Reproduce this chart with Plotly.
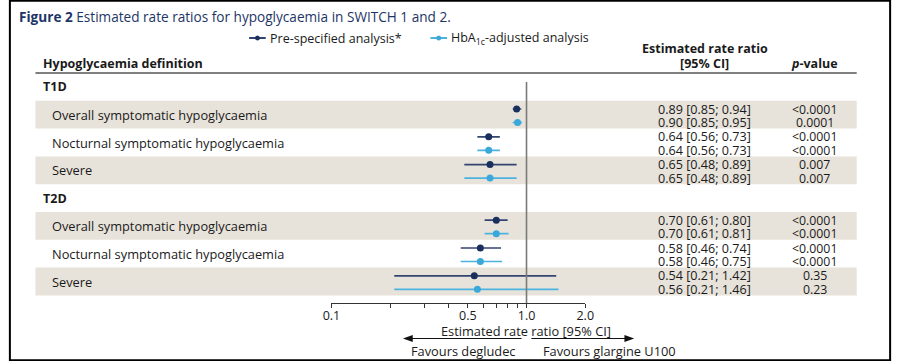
import plotly.graph_objects as go

W, H = 900, 361

groups = ["T1D", "T2D"]
definitions = ["Overall symptomatic hypoglycaemia", "Nocturnal symptomatic hypoglycaemia", "Severe"]

pre_est = [0.89, 0.64, 0.65, 0.70, 0.58, 0.54]
pre_lo = [0.85, 0.56, 0.48, 0.61, 0.46, 0.21]
pre_hi = [0.94, 0.73, 0.89, 0.80, 0.74, 1.42]
pre_p = ["<0.0001", "<0.0001", "0.007", "<0.0001", "<0.0001", "0.35"]

adj_est = [0.90, 0.64, 0.65, 0.70, 0.58, 0.56]
adj_lo = [0.85, 0.56, 0.48, 0.61, 0.46, 0.21]
adj_hi = [0.95, 0.73, 0.89, 0.81, 0.75, 1.46]
adj_p = ["0.0001", "<0.0001", "0.007", "<0.0001", "<0.0001", "0.23"]

major_ticks = [0.1, 0.5, 1.0, 2.0]
major_labels = ["0.1", "0.5", "1.0", "2.0"]
minor_ticks = [0.2, 0.3, 0.4, 0.6, 0.7, 0.8, 0.9]

NAVY = "#1b2f5e"
NAVY_LINE = "#33456f"
LBLUE = "#3aa9da"
LBLUE_LINE = "#4cb3e0"
BAND = "#e7e3da"
FONT = "Open Sans"
TXT = "#1a1a1a"

ROW0 = 73.0
ROWH = 27.8
AX_Y = 303.0


def px(x):
    return x / W


def py(y):
    return 1 - y / H


fig = go.Figure()
shapes = []
ann = []

row_y_pre, row_y_adj = [], []
k = 0
for gi, g in enumerate(groups):
    r_head = gi * 4
    top = ROW0 + r_head * ROWH
    ann.append(dict(x=px(33), y=py(top + ROWH / 2), xanchor="left", yanchor="middle",
                    text="<b>%s</b>" % g, font=dict(size=12.5, color=TXT)))
    for di, d in enumerate(definitions):
        r = r_head + 1 + di
        top = ROW0 + r * ROWH
        if di != 1:
            shapes.append(dict(type="rect", xref="paper", yref="paper", x0=px(27), x1=px(865),
                               y0=py(top), y1=py(top + ROWH), fillcolor=BAND, line=dict(width=0),
                               layer="below"))
        ann.append(dict(x=px(42), y=py(top + ROWH / 2), xanchor="left", yanchor="middle",
                        text=d, font=dict(size=12.8, color=TXT)))
        y1 = top + 8.2
        y2 = top + 21.7
        row_y_pre.append(y1)
        row_y_adj.append(y2)
        ann.append(dict(x=px(710), y=py(y1), xanchor="center", yanchor="middle",
                        text="%.2f [%.2f; %.2f]" % (pre_est[k], pre_lo[k], pre_hi[k]),
                        font=dict(size=12.6, color=TXT)))
        ann.append(dict(x=px(710), y=py(y2), xanchor="center", yanchor="middle",
                        text="%.2f [%.2f; %.2f]" % (adj_est[k], adj_lo[k], adj_hi[k]),
                        font=dict(size=12.6, color=TXT)))
        ann.append(dict(x=px(822), y=py(y1), xanchor="center", yanchor="middle",
                        text=pre_p[k], font=dict(size=12.3, color=TXT)))
        ann.append(dict(x=px(822), y=py(y2), xanchor="center", yanchor="middle",
                        text=adj_p[k], font=dict(size=12.3, color=TXT)))
        k += 1

shapes.append(dict(type="line", xref="x", yref="y", x0=1, x1=1, y0=82, y1=AX_Y,
                   line=dict(color="#7a7a7a", width=1.6)))

for est, lo, hi, ys, col, lcol, name in [
    (pre_est, pre_lo, pre_hi, row_y_pre, NAVY, NAVY_LINE, "Pre-specified analysis*"),
    (adj_est, adj_lo, adj_hi, row_y_adj, LBLUE, LBLUE_LINE, "HbA1c-adjusted analysis"),
]:
    fig.add_trace(go.Scatter(
        x=est, y=ys, mode="markers", name=name, showlegend=False,
        marker=dict(color=col, size=7),
        error_x=dict(type="data", symmetric=False,
                     array=[h - e for h, e in zip(hi, est)],
                     arrayminus=[e - l for e, l in zip(est, lo)],
                     color=lcol, thickness=1.7, width=0),
    ))

shapes.append(dict(type="line", xref="paper", yref="paper", x0=px(27), x1=px(865),
                   y0=py(73), y1=py(73), line=dict(color="#555555", width=1.5)))
ann.append(dict(x=px(33), y=py(64), xanchor="left", yanchor="middle",
                text="<b>Hypoglycaemia definition</b>", font=dict(size=12.5, color=TXT)))
ann.append(dict(x=px(710), y=py(48), xanchor="center", yanchor="middle",
                text="<b>Estimated rate ratio</b>", font=dict(size=12.5, color=TXT)))
ann.append(dict(x=px(710), y=py(64), xanchor="center", yanchor="middle",
                text="<b>[95% CI]</b>", font=dict(size=12.5, color=TXT)))
ann.append(dict(x=px(822), y=py(64), xanchor="center", yanchor="middle",
                text="<b><i>p</i>-value</b>", font=dict(size=12.5, color=TXT)))

ann.append(dict(x=px(8), y=py(17), xanchor="left", yanchor="middle",
                text="<b>Figure 2</b> Estimated rate ratios for hypoglycaemia in SWITCH 1 and 2.",
                font=dict(size=13.6, color="#1d3566")))

for x0, col, label in [(245, NAVY, "Pre-specified analysis*"),
                       (430, LBLUE, "HbA<sub>1c</sub>-adjusted analysis")]:
    shapes.append(dict(type="line", xref="paper", yref="paper", x0=px(x0), x1=px(x0 + 17),
                       y0=py(38), y1=py(38), line=dict(color=col, width=1.8)))
    shapes.append(dict(type="circle", xref="paper", yref="paper", x0=px(x0 + 6), x1=px(x0 + 11),
                       y0=py(35.5), y1=py(40.5), fillcolor=col, line=dict(width=0)))
    ann.append(dict(x=px(x0 + 19), y=py(38), xanchor="left", yanchor="middle",
                    text=label, font=dict(size=12.5, color=TXT)))

ann.append(dict(x=px(528), y=py(330.5), xanchor="center", yanchor="middle",
                text="Estimated rate ratio [95% CI]", font=dict(size=12.8, color=TXT)))

AY = 338.5
shapes.append(dict(type="line", xref="paper", yref="paper", x0=px(523), x1=px(407),
                   y0=py(AY), y1=py(AY), line=dict(color="#111", width=1.2)))
shapes.append(dict(type="path", xref="paper", yref="paper",
                   path="M %f,%f L %f,%f L %f,%f Z" % (px(402), py(AY), px(412), py(AY - 3.5),
                                                       px(412), py(AY + 3.5)),
                   fillcolor="#111", line=dict(width=0)))
shapes.append(dict(type="line", xref="paper", yref="paper", x0=px(533), x1=px(632),
                   y0=py(AY), y1=py(AY), line=dict(color="#111", width=1.2)))
shapes.append(dict(type="path", xref="paper", yref="paper",
                   path="M %f,%f L %f,%f L %f,%f Z" % (px(638), py(AY), px(628), py(AY - 3.5),
                                                       px(628), py(AY + 3.5)),
                   fillcolor="#111", line=dict(width=0)))
ann.append(dict(x=px(519), y=py(351), xanchor="right", yanchor="middle",
                text="Favours degludec", font=dict(size=12.8, color=TXT)))
ann.append(dict(x=px(543), y=py(351), xanchor="left", yanchor="middle",
                text="Favours glargine U100", font=dict(size=12.8, color=TXT)))

for a in ann:
    a.setdefault("xref", "paper")
    a.setdefault("yref", "paper")
    a.setdefault("showarrow", False)

shapes.append(dict(type="rect", xref="paper", yref="paper", x0=0.001, x1=0.999, y0=0.002, y1=0.998,
                   line=dict(color="#000", width=2)))

fig.update_layout(
    width=W, height=H,
    margin=dict(l=0, r=0, t=0, b=0),
    paper_bgcolor="white", plot_bgcolor="rgba(0,0,0,0)",
    font=dict(family=FONT, size=12, color=TXT),
    shapes=shapes, annotations=ann, showlegend=False,
    xaxis=dict(type="log", domain=[px(329), px(588)], range=[-1, 0.30103],
               tickmode="array", tickvals=major_ticks, ticktext=major_labels,
               ticks="outside", ticklen=4, tickcolor="#333", tickwidth=1,
               minor=dict(tickmode="array", tickvals=minor_ticks, ticks="outside", ticklen=4,
                          tickcolor="#333", tickwidth=1, showgrid=False),
               showline=True, linecolor="#333", linewidth=1,
               showgrid=False, zeroline=False, tickfont=dict(size=12.5, color=TXT),
               ticklabelstandoff=-3, fixedrange=True),
    yaxis=dict(domain=[(H - AX_Y) / H, 1], range=[AX_Y, 0], visible=False, fixedrange=True),
)

fig.write_html("out.html", config=dict(displayModeBar=False),
               post_script="document.body.style.margin='0';document.body.style.overflow='hidden';")
